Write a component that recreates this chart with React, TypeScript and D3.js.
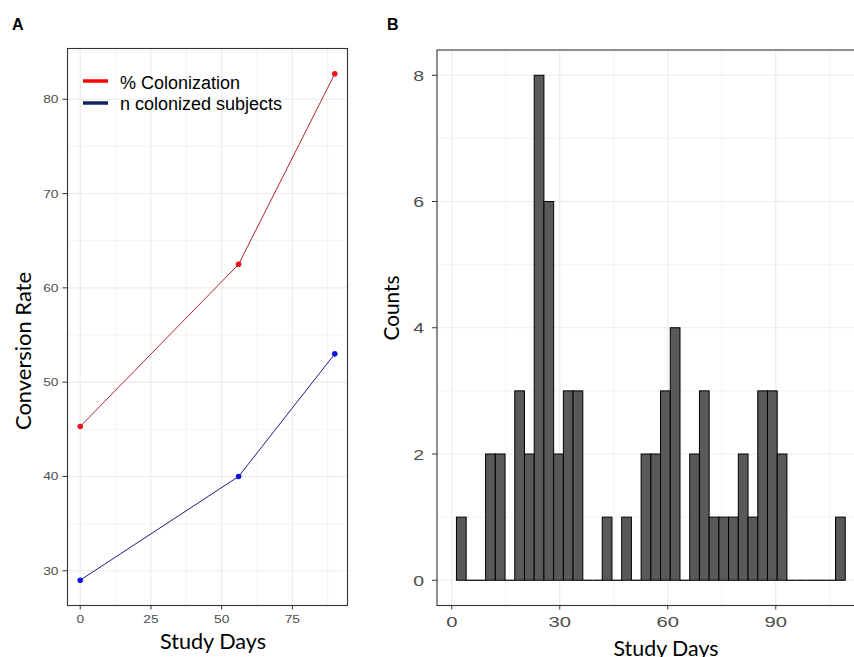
import * as d3 from 'd3'

// Panel A: conversion over study days
const studyDays = [0, 56, 90]
const pctColonization = [45.3, 62.5, 82.7]
const nColonized = [29, 40, 53]
const seriesNames = ['% Colonization', 'n colonized subjects']

// Panel B: histogram of study days (40 bins)
const binStart = 1.3
const binWidth = 2.7
const binCounts = [
  1, 0, 0, 2, 2, 0, 3, 2, 8, 6,
  2, 3, 3, 0, 0, 1, 0, 1, 0, 2,
  2, 3, 4, 0, 2, 3, 1, 1, 1, 2,
  1, 3, 3, 2, 0, 0, 0, 0, 0, 1,
]

const xTicksA = [0, 25, 50, 75]
const yTicksA = [30, 40, 50, 60, 70, 80]
const xTicksB = [0, 30, 60, 90]
const yTicksB = [0, 2, 4, 6, 8]

const GRID = '#ebebeb'
const TICK_TXT = '#4d4d4d'
const TITLE_FONT = 'Lato, "Open Sans", sans-serif'
const TICK_FONT = '"Liberation Sans", Arial, sans-serif'

// the original raster is a bit stretched, so tick labels are widened
function TickText({ x, y, anchor, size, sx, children }: any) {
  return (
    <text transform={`translate(${x},${y}) scale(${sx},1)`} textAnchor={anchor}
      fontFamily={TICK_FONT} fontSize={size} fill={TICK_TXT}>{children}</text>
  )
}

function PanelA() {
  const L = 67.5, R = 347.5, T = 48.5, B = 605.5
  const allY = [...pctColonization, ...nColonized]
  const [ymin, ymax] = d3.extent(allY) as [number, number]
  const [xmin, xmax] = d3.extent(studyDays) as [number, number]
  const ey = (ymax - ymin) * 0.05
  const ex = (xmax - xmin) * 0.05
  const x = d3.scaleLinear().domain([xmin - ex, xmax + ex]).range([L, R])
  const y = d3.scaleLinear().domain([ymin - ey, ymax + ey]).range([B, T])

  const xMinor = xTicksA.map(t => t + 12.5)
  const yMinor = d3.range(25, 90, 10).filter(v => v > y.domain()[0] && v < y.domain()[1])
  const line = d3.line<number>().x((_, i) => x(studyDays[i])).y(d => d)

  const red = pctColonization.map(v => y(v))
  const blue = nColonized.map(v => y(v))

  return (
    <g>
      <text x={12} y={30} fontFamily={TICK_FONT} fontWeight="bold" fontSize={16}>A</text>
      <rect x={L} y={T} width={R - L} height={B - T} fill="white" />
      {yMinor.map(v => <line key={'ym' + v} x1={L} x2={R} y1={y(v)} y2={y(v)} stroke={GRID} strokeWidth={0.6} />)}
      {xMinor.map(v => <line key={'xm' + v} x1={x(v)} x2={x(v)} y1={T} y2={B} stroke={GRID} strokeWidth={0.6} />)}
      {yTicksA.map(v => <line key={'yg' + v} x1={L} x2={R} y1={y(v)} y2={y(v)} stroke={GRID} strokeWidth={1.1} />)}
      {xTicksA.map(v => <line key={'xg' + v} x1={x(v)} x2={x(v)} y1={T} y2={B} stroke={GRID} strokeWidth={1.1} />)}

      <path d={line(red) ?? ''} fill="none" stroke="#b5232f" strokeWidth={1} />
      <path d={line(blue) ?? ''} fill="none" stroke="#1c1c8a" strokeWidth={1} />
      {red.map((v, i) => <circle key={'r' + i} cx={x(studyDays[i])} cy={v} r={2.8} fill="#e8141e" />)}
      {blue.map((v, i) => <circle key={'b' + i} cx={x(studyDays[i])} cy={v} r={2.8} fill="#1414e0" />)}

      <rect x={L} y={T} width={R - L} height={B - T} fill="none" stroke="#333" strokeWidth={1.1} />

      {yTicksA.map(v => (
        <g key={'yt' + v}>
          <line x1={L - 5} x2={L} y1={y(v)} y2={y(v)} stroke="#333" />
          <TickText x={L - 9} y={y(v) + 4} anchor="end" size={11} sx={1.25}>{v}</TickText>
        </g>
      ))}
      {xTicksA.map(v => (
        <g key={'xt' + v}>
          <line x1={x(v)} x2={x(v)} y1={B} y2={B + 4} stroke="#333" />
          <TickText x={x(v)} y={623} anchor="middle" size={11} sx={1.25}>{v}</TickText>
        </g>
      ))}

      <text x={213} y={649} textAnchor="middle" fontFamily={TITLE_FONT} fontSize={21}
        textLength={106} lengthAdjust="spacingAndGlyphs">Study Days</text>
      <text transform="translate(31,351) rotate(-90)" textAnchor="middle" fontFamily={TITLE_FONT} fontSize={21.5}
        textLength={158} lengthAdjust="spacingAndGlyphs">Conversion Rate</text>

      <line x1={83} x2={108} y1={81} y2={81} stroke="#ff0000" strokeWidth={3.5} />
      <line x1={83} x2={108} y1={103} y2={103} stroke="#0d2566" strokeWidth={3.5} />
      <text x={120} y={89} fontFamily={TICK_FONT} fontSize={18}>{seriesNames[0]}</text>
      <text x={120} y={110} fontFamily={TICK_FONT} fontSize={18}>{seriesNames[1]}</text>
    </g>
  )
}

function PanelB() {
  const L = 437, T = 50, B = 605.5
  const bins = binCounts.map((c, i) => ({ x0: binStart + i * binWidth, x1: binStart + (i + 1) * binWidth, c }))
  const lo = bins[0].x0, hi = bins[bins.length - 1].x1
  const ex = (hi - lo) * 0.05
  const ymax = d3.max(binCounts) as number
  const R = L + (hi - lo + 2 * ex) * 3.6
  const x = d3.scaleLinear().domain([lo - ex, hi + ex]).range([L, R])
  const y = d3.scaleLinear().domain([-ymax * 0.05, ymax * 1.05]).range([B, T])

  const xMinor = xTicksB.map(t => t + 15)
  const yMinor = [1, 3, 5, 7]

  return (
    <g>
      <text x={387} y={30} fontFamily={TICK_FONT} fontWeight="bold" fontSize={16}>B</text>
      <rect x={L} y={T} width={R - L} height={B - T} fill="white" />
      {yMinor.map(v => <line key={'ym' + v} x1={L} x2={R} y1={y(v)} y2={y(v)} stroke={GRID} strokeWidth={0.6} />)}
      {xMinor.map(v => <line key={'xm' + v} x1={x(v)} x2={x(v)} y1={T} y2={B} stroke={GRID} strokeWidth={0.6} />)}
      {yTicksB.map(v => <line key={'yg' + v} x1={L} x2={R} y1={y(v)} y2={y(v)} stroke={GRID} strokeWidth={1.1} />)}
      {xTicksB.map(v => <line key={'xg' + v} x1={x(v)} x2={x(v)} y1={T} y2={B} stroke={GRID} strokeWidth={1.1} />)}

      {bins.map((b, i) => b.c > 0 ? (
        <rect key={'bin' + i} x={x(b.x0)} y={y(b.c)} width={x(b.x1) - x(b.x0)} height={y(0) - y(b.c)}
          fill="#595959" stroke="#000" strokeWidth={1} />
      ) : (
        <line key={'bin' + i} x1={x(b.x0)} x2={x(b.x1)} y1={y(0)} y2={y(0)} stroke="#000" strokeWidth={1.2} />
      ))}

      <rect x={L} y={T} width={R - L} height={B - T} fill="none" stroke="#333" strokeWidth={1.1} />

      {yTicksB.map(v => (
        <g key={'yt' + v}>
          <line x1={L - 5} x2={L} y1={y(v)} y2={y(v)} stroke="#333" />
          <TickText x={L - 13} y={y(v) + 5.5} anchor="end" size={15} sx={1.3}>{v}</TickText>
        </g>
      ))}
      {xTicksB.map(v => (
        <g key={'xt' + v}>
          <line x1={x(v)} x2={x(v)} y1={B} y2={B + 4} stroke="#333" />
          <TickText x={x(v)} y={627} anchor="middle" size={15} sx={1.35}>{v}</TickText>
        </g>
      ))}

      <text x={666} y={656} textAnchor="middle" fontFamily={TITLE_FONT} fontSize={21}
        textLength={105} lengthAdjust="spacingAndGlyphs">Study Days</text>
      <text transform="translate(399,308) rotate(-90)" textAnchor="middle" fontFamily={TITLE_FONT} fontSize={22}
        textLength={65} lengthAdjust="spacingAndGlyphs">Counts</text>
    </g>
  )
}

export default function App() {
  return (
    <svg width={854} height={657} style={{ position: 'fixed', left: 0, top: 0, background: 'white' }}>
      <rect width={854} height={657} fill="white" />
      <PanelA />
      <PanelB />
    </svg>
  )
}
